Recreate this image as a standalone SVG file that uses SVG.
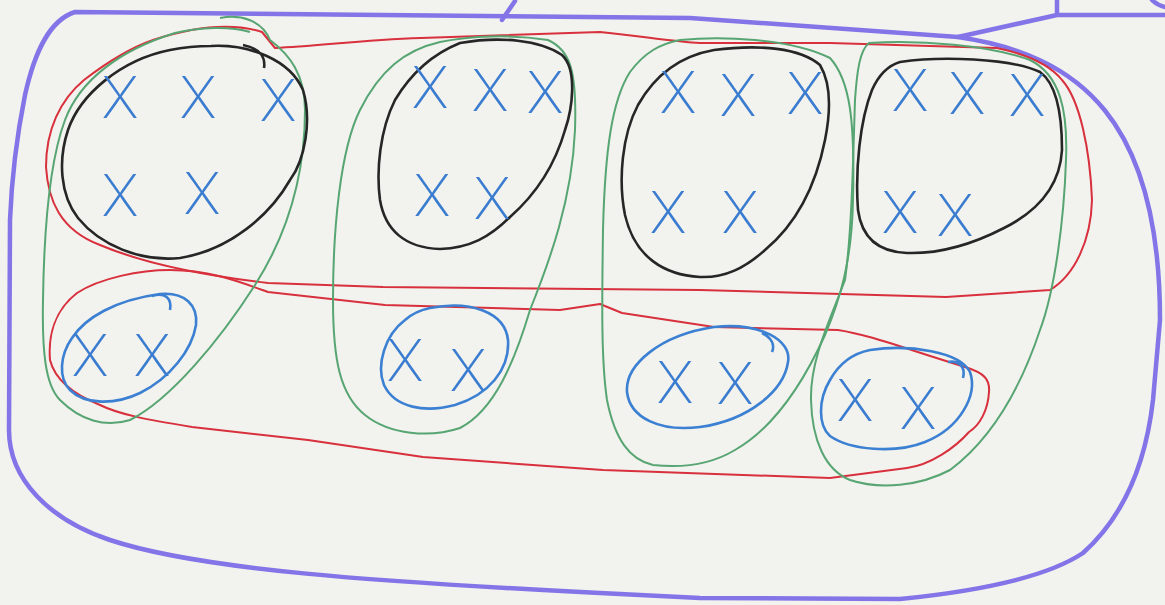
<svg xmlns="http://www.w3.org/2000/svg" width="1165" height="605" viewBox="0 0 1165 605">
<style>
.pur{fill:none;stroke:#8374e8;stroke-width:4.5;stroke-linecap:round;stroke-linejoin:round}
.red{fill:none;stroke:#d8303c;stroke-width:2;stroke-linejoin:round}
.grn{fill:none;stroke:#57a572;stroke-width:2}
.blk{fill:none;stroke:#262626;stroke-width:2.6}
.blu{fill:none;stroke:#3b80d2;stroke-width:2.6}
.x{font-family:Inter,Roboto,"DejaVu Sans",sans-serif;font-weight:200;font-size:58px;fill:#3a7ccf;text-anchor:middle}
</style>
<rect width="1165" height="605" fill="#f2f2ee"/>
<g id="outer">
<path class="pur" d="M 75 12 L 690 18 L 958 37 C 1080 55 1160 120 1160 320 L 1153 400 C 1145 470 1120 520 1083 553 C 1050 575 990 590 900 599 L 700 598 L 600 593 C 380 582 200 570 110 540 C 50 520 9 480 9 430 L 10 220 C 12 170 18 130 25 95 C 35 50 50 20 75 12 Z"/>
<path class="pur" d="M 515 1 L 502 20"/>
<path class="pur" d="M 958 37 L 1057 15 L 1165 15 M 1057 15 L 1057 0"/>
<path class="pur" d="M 1152 0 C 1156 4 1160 6 1165 7" stroke-width="2.5"/>
</g>
<g id="red-loops">
<path id="red-top" class="red" d="M 153 40 C 190 28 230 22 262 32 L 275 48 C 320 46 360 40 421 38 L 600 32 C 640 36 676 42 700 43 L 830 43 L 997 48 C 1030 55 1050 65 1062 80 C 1080 100 1090 150 1092 200 C 1091 240 1075 275 1050 290 L 946 297 L 700 290 L 383 287 L 268 283 C 200 275 140 262 100 245 C 60 230 48 200 46 167 C 46 130 60 100 84 80 C 110 60 130 48 153 40 Z"/>
<path id="red-bottom" class="red" d="M 170 270 C 210 270 240 282 268 292 L 385 305 L 560 310 L 600 304 L 622 313 L 714 327 L 838 330 C 870 335 900 347 965 367 C 985 373 990 380 989 392 C 988 410 980 425 969 432 C 955 448 930 465 907 468 L 830 478 L 603 470 L 423 457 L 308 440 L 192 427 C 150 420 120 415 100 405 C 75 395 55 380 50 360 C 48 335 55 310 77 293 C 100 278 140 270 170 270 Z"/>
</g>
<g id="group1">
<path class="grn" d="M 220 18 C 240 14 262 20 270 40 C 290 55 305 75 305 110 C 305 170 290 230 255 285 C 220 340 170 400 130 420 C 105 428 80 420 60 400 C 45 385 42 350 43 300 C 44 230 50 160 65 120 C 80 80 120 50 175 33 C 200 27 230 26 250 32"/>
<path class="blk" d="M 211 46 C 250 44 290 60 303 90 C 312 120 305 160 290 180 C 270 215 230 250 180 258 C 140 262 100 245 78 218 C 60 195 58 160 68 130 C 80 95 120 60 170 50 C 185 47 200 46 211 46 Z M 243 45 C 258 48 266 56 264 68"/>
<path class="blu" d="M 160 294 C 185 292 198 305 196 325 C 192 350 170 378 140 393 C 115 405 85 405 70 390 C 58 378 60 355 72 338 C 85 318 115 300 160 294 Z M 152 296 C 165 292 172 298 170 310"/>
<text class="x" x="120" y="118">X</text><text class="x" x="198" y="118">X</text><text class="x" x="278" y="121">X</text>
<text class="x" x="120" y="216">X</text><text class="x" x="202" y="214">X</text>
<text class="x" x="90" y="376">X</text><text class="x" x="152" y="376">X</text>
</g>
<g id="group2">
<path class="grn" d="M 440 42 C 470 36 510 34 548 40 C 570 50 577 70 575 130 C 572 200 550 260 530 310 C 515 360 495 410 460 428 C 430 438 390 435 365 415 C 340 395 333 360 333 300 C 333 230 340 150 360 110 C 380 70 405 50 440 42 Z"/>
<path class="blk" d="M 460 43 C 500 36 540 40 562 55 C 578 70 572 110 565 130 C 555 165 535 195 510 217 C 490 237 470 248 440 249 C 405 248 385 230 380 200 C 376 170 380 130 395 100 C 410 75 430 55 460 43 Z"/>
<path class="blu" d="M 430 308 C 470 300 505 312 508 340 C 510 370 488 395 455 405 C 425 413 395 408 384 385 C 376 365 385 335 405 320 C 413 313 420 310 430 308 Z"/>
<text class="x" x="430" y="108">X</text><text class="x" x="490" y="111">X</text><text class="x" x="545" y="113">X</text>
<text class="x" x="432" y="216">X</text><text class="x" x="492" y="219">X</text>
<text class="x" x="405" y="381">X</text><text class="x" x="468" y="391">X</text>
</g>
<g id="group3">
<path class="grn" d="M 680 40 C 720 36 790 38 830 58 C 850 80 855 120 853 200 C 852 260 840 300 825 335 C 800 390 770 430 735 450 C 710 465 680 468 653 465 C 630 460 615 440 607 400 C 601 360 602 300 603 230 C 605 150 612 100 630 72 C 645 52 660 44 680 40 Z"/>
<path class="blk" d="M 714 50 C 760 44 800 48 820 65 C 832 85 830 115 825 140 C 815 190 795 225 765 250 C 745 268 725 278 700 277 C 665 275 635 258 625 215 C 618 180 622 135 638 105 C 655 75 680 56 714 50 Z"/>
<path class="blu" d="M 714 327 C 760 322 792 340 788 362 C 784 390 750 420 700 427 C 660 432 630 418 627 392 C 625 365 660 335 714 327 Z M 762 333 C 772 338 775 345 772 352"/>
<text class="x" x="678" y="113">X</text><text class="x" x="738" y="116">X</text><text class="x" x="805" y="114">X</text>
<text class="x" x="668" y="233">X</text><text class="x" x="740" y="233">X</text>
<text class="x" x="675" y="403">X</text><text class="x" x="735" y="404">X</text>
</g>
<g id="group4">
<path class="grn" d="M 869 43 C 920 40 990 45 1030 60 C 1060 75 1068 110 1066 160 C 1064 220 1055 290 1040 330 C 1020 390 990 440 950 470 C 920 486 880 490 850 480 C 825 470 812 440 811 400 C 810 360 830 320 845 280 C 852 230 853 160 855 100 C 857 70 860 50 869 43 Z"/>
<path class="blk" d="M 900 62 C 940 56 1010 58 1040 72 C 1058 85 1062 120 1062 150 C 1060 185 1040 210 1004 228 C 975 243 940 254 907 253 C 880 252 862 240 858 210 C 855 170 860 120 872 90 C 880 72 890 65 900 62 Z"/>
<path class="blu" d="M 870 350 C 910 344 960 352 970 372 C 978 395 960 428 925 442 C 895 454 850 450 830 436 C 818 425 818 400 830 380 C 840 362 855 353 870 350 Z M 948 362 C 958 360 966 366 963 378"/>
<text class="x" x="910" y="111">X</text><text class="x" x="967" y="114">X</text><text class="x" x="1027" y="116">X</text>
<text class="x" x="900" y="233">X</text><text class="x" x="955" y="236">X</text>
<text class="x" x="855" y="421">X</text><text class="x" x="918" y="429">X</text>
</g>
</svg>
